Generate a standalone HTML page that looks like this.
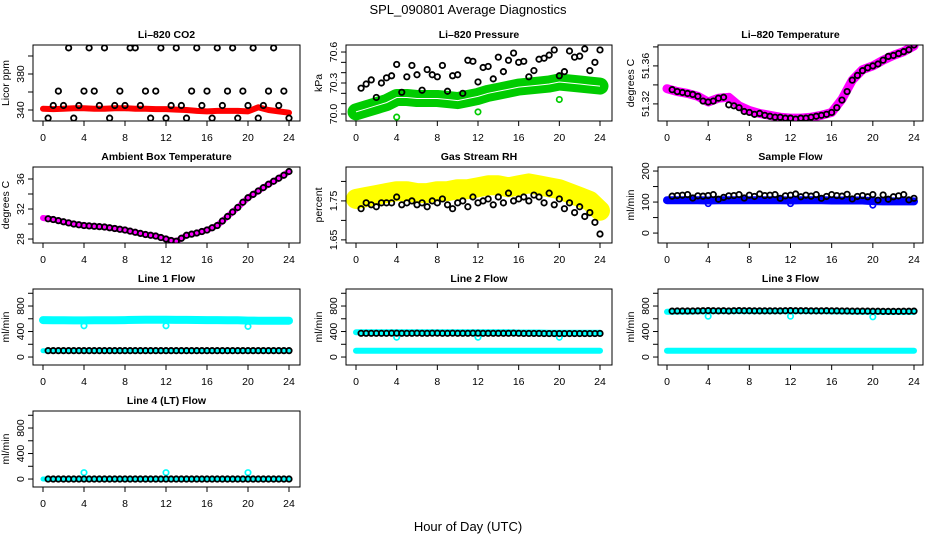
<!DOCTYPE html>
<html><head><meta charset="utf-8"><style>
html,body{margin:0;padding:0;background:#fff;}
svg{display:block;font-family:"Liberation Sans",Arial,sans-serif;}
</style></head><body>
<svg id="chart" width="936" height="540" viewBox="0 0 936 540">
<text x="468" y="14" text-anchor="middle" font-size="13">SPL_090801  Average Diagnostics</text>
<text x="468" y="531" text-anchor="middle" font-size="13">Hour of Day (UTC)</text>
</svg>
<script>
const hours25 = [0,1,2,3,4,5,6,7,8,9,10,11,12,13,14,15,16,17,18,19,20,21,22,23,24];
const hours48 = [0.5,1,1.5,2,2.5,3,3.5,4,4.5,5,5.5,6,6.5,7,7.5,8,8.5,9,9.5,10,10.5,11,11.5,12,12.5,13,13.5,14,14.5,15,15.5,16,16.5,17,17.5,18,18.5,19,19.5,20,20.5,21,21.5,22,22.5,23,23.5,24];
const xTicks = [0,4,8,12,16,20,24];
const outlierHours = [4,12,20];

const co2Band = [341.5,341,341.5,342,342,341.5,341.5,342,342,341.5,341.5,341,341,340.5,340,339,338.5,339,339,339,338.5,343,340,338.5,337];
const co2Points = [331,345,361,345,409,331,345,361,409,361,345,409,331,345,361,345,409,409,345,361,331,361,409,331,345,409,345,331,361,409,345,361,331,409,345,361,409,331,361,345,409,331,345,361,409,345,361,331];
const presBand = [70.02,70.05,70.08,70.11,70.16,70.16,70.15,70.15,70.15,70.14,70.13,70.15,70.17,70.2,70.22,70.24,70.26,70.27,70.28,70.29,70.31,70.3,70.29,70.28,70.27];
const presPoints = [70.25,70.29,70.33,70.16,70.3,70.35,70.37,70.48,70.21,70.36,70.47,70.38,70.23,70.43,70.38,70.36,70.47,70.22,70.37,70.38,70.2,70.52,70.51,70.31,70.45,70.46,70.34,70.55,70.41,70.52,70.59,70.5,70.51,70.36,70.42,70.53,70.54,70.57,70.62,70.37,70.41,70.61,70.55,70.56,70.63,70.42,70.5,70.62];
const presOutliers = [69.97,70.02,70.14];
const tempBand = [51.336,51.333,51.331,51.328,51.322,51.326,51.327,51.318,51.313,51.310,51.308,51.306,51.305,51.305,51.306,51.308,51.311,51.325,51.345,51.356,51.360,51.366,51.371,51.375,51.381];
const tempPoints = [51.335,51.333,51.332,51.331,51.330,51.328,51.323,51.322,51.323,51.326,51.327,51.319,51.318,51.316,51.312,51.311,51.309,51.310,51.308,51.307,51.306,51.306,51.305,51.305,51.304,51.305,51.305,51.306,51.307,51.308,51.309,51.311,51.316,51.324,51.333,51.345,51.350,51.355,51.358,51.360,51.362,51.366,51.370,51.371,51.373,51.375,51.377,51.382];
const ambBand = [30.8,30.6,30.3,30.0,29.8,29.7,29.6,29.4,29.2,28.9,28.6,28.4,28.0,27.7,28.5,28.8,29.2,29.8,31.0,32.2,33.5,34.4,35.3,36.1,37.0];
const ambPoints = [30.7,30.6,30.45,30.3,30.15,30.0,29.9,29.8,29.75,29.7,29.65,29.6,29.5,29.4,29.3,29.2,29.05,28.9,28.75,28.6,28.5,28.4,28.2,28.0,27.8,27.7,28.1,28.5,28.65,28.8,29.0,29.2,29.5,29.8,30.4,31.0,31.6,32.2,32.9,33.5,33.95,34.4,34.85,35.3,35.7,36.1,36.5,37.0];
const rhBand = [1.755,1.76,1.765,1.77,1.775,1.775,1.77,1.77,1.775,1.775,1.78,1.78,1.785,1.79,1.79,1.785,1.79,1.795,1.79,1.785,1.78,1.77,1.76,1.75,1.725];
const rhPoints = [1.73,1.745,1.74,1.735,1.745,1.745,1.745,1.76,1.74,1.745,1.75,1.74,1.745,1.735,1.75,1.745,1.755,1.74,1.73,1.745,1.75,1.735,1.76,1.745,1.75,1.755,1.74,1.76,1.745,1.77,1.75,1.755,1.76,1.75,1.765,1.76,1.745,1.77,1.74,1.755,1.73,1.745,1.72,1.735,1.71,1.72,1.695,1.665];
const sampBand = [106,106,106,106,105,106,106,106,106,106,106,106,105,106,106,106,105,105,105,105,103,102,102,102,102];
const sampPoints = [119,121,122,124,113,120,119,121,124,109,115,120,121,124,113,122,118,126,121,122,124,112,120,122,126,117,122,119,124,112,118,124,121,119,125,110,118,121,117,124,106,123,109,117,120,124,107,112];
const sampOutliers = [95,95,90];
const line1BandHigh = [580,578,576,575,574,576,577,578,580,582,585,586,585,583,582,581,580,580,578,576,572,570,570,570,570];
const line1BandLow = [100,100,100,100,100,100,100,100,100,100,100,100,100,100,100,100,100,100,100,100,100,100,100,100,100];
const line1Points = [100,100,100,100,100,100,100,100,100,100,100,100,100,100,100,100,100,100,100,100,100,100,100,100,100,100,100,100,100,100,100,100,100,100,100,100,100,100,100,100,100,100,100,100,100,100,100,100];
const line1Outliers = [490,490,480];
const line2BandHigh = [390,390,390,390,390,390,390,390,390,390,390,390,390,390,390,390,385,385,385,382,380,380,380,380,380];
const line2BandLow = [100,100,100,100,100,100,100,100,100,100,100,100,100,100,100,100,100,100,100,100,100,100,100,100,100];
const line2Points = [372,372,372,372,372,372,374,374,372,372,372,374,372,372,374,374,372,372,374,372,372,372,374,374,372,372,372,372,372,372,374,372,370,370,370,370,368,368,368,368,368,368,368,368,368,368,368,370];
const line2Outliers = [310,310,310];
const line3BandHigh = [710,712,712,715,718,720,720,720,720,720,720,720,720,720,720,720,715,715,712,710,710,708,708,708,708];
const line3BandLow = [100,100,100,100,100,100,100,100,100,100,100,100,100,100,100,100,100,100,100,100,100,100,100,100,100];
const line3Points = [720,722,722,722,722,724,726,728,726,724,726,722,726,728,726,726,724,724,724,724,724,724,726,728,726,726,726,724,724,724,726,724,724,722,722,720,720,720,720,718,718,716,716,716,716,718,718,720];
const line3Outliers = [640,640,630];
const line4Band = [0,0,0,0,0,0,0,0,0,0,0,0,0,0,0,0,0,0,0,0,0,0,0,0,0];
const line4Points = [0,0,0,0,0,0,0,0,0,0,0,0,0,0,0,0,0,0,0,0,0,0,0,0,0,0,0,0,0,0,0,0,0,0,0,0,0,0,0,0,0,0,0,0,0,0,0,0];
const line4Outliers = [100,100,100];

const NS = 'http://www.w3.org/2000/svg';
const svg = document.getElementById('chart');
const cols = [{l:33,r:300,x0:43,x24:289},{l:346,r:612,x0:356,x24:600},{l:658,r:923,x0:667,x24:914}];
const rowTops = [45,167,289,411];
const H = 76;

function mk(tag, attrs, parent){
  const e = document.createElementNS(NS, tag);
  for (const k in attrs) e.setAttribute(k, attrs[k]);
  (parent||svg).appendChild(e);
  return e;
}

function panel(o){
  const c = cols[o.col], top = rowTops[o.row], bot = top + H;
  const g = mk('g', {});
  
  
  const xs = h => c.x0 + (c.x24 - c.x0) * h / 24;
  const ys = v => bot - (v - o.yMin) / (o.yMax - o.yMin) * H;
  const t = mk('text', {x:(c.l+c.r)/2, y:top-7, 'text-anchor':'middle', 'font-size':10.5, 'font-weight':'bold'}, g);
  t.textContent = o.title;
  
  
  const cid = 'clip-' + o.name;
  const cp = mk('clipPath', {id:cid}, g);
  mk('rect', {x:c.l, y:top, width:c.r-c.l, height:H}, cp);
  const pg = mk('g', {'clip-path':'url(#'+cid+')'}, g);
  
  
  (o.bands||[]).forEach((b, bi) => {
    const pts = hours25.map((h,i)=> xs(h).toFixed(1)+','+ys(b.vals[i]).toFixed(1)).join(' ');
    const pl = mk('polyline', {points:pts, fill:'none', stroke:b.color, 'stroke-width':b.w, 'stroke-linejoin':'round', 'stroke-linecap':'round'}, pg);
    
    
    if (b.center) {
      const cl = mk('polyline', {points:pts, fill:'none', stroke:'#fff', 'stroke-width':1}, pg);
      
      
    }
  });
  if (o.outliers) {
    outlierHours.forEach((h,i) => {
      const ci = mk('circle', {cx:xs(h), cy:ys(o.outliers[i]), r:2.7, fill:'none', stroke:o.outColor, 'stroke-width':1.7}, pg);
      
      
    });
  }
  if (o.points) {
    hours48.forEach((h,i) => {
      const ci = mk('circle', {cx:xs(h), cy:ys(o.points[i]), r:2.7, fill:'none', stroke:'#000', 'stroke-width':1.8}, pg);
      
      
    });
  }
  const box = mk('rect', {x:c.l, y:top, width:c.r-c.l, height:H, fill:'none', stroke:'#000', 'stroke-width':1}, g);
  
  
  mk('line', {x1:xs(0), x2:xs(24), y1:bot, y2:bot, stroke:'#000'}, g);
  xTicks.forEach(h => {
    mk('line', {x1:xs(h), x2:xs(h), y1:bot, y2:bot+5, stroke:'#000'}, g);
    const tl = mk('text', {x:xs(h), y:bot+20, 'text-anchor':'middle', 'font-size':10.5}, g);
    tl.textContent = h;
    
    
  });
  const yt = o.yTicks;
  mk('line', {x1:c.l, x2:c.l, y1:ys(yt[0]), y2:ys(yt[yt.length-1]), stroke:'#000'}, g);
  yt.forEach(v => {
    mk('line', {x1:c.l-5, x2:c.l, y1:ys(v), y2:ys(v), stroke:'#000'}, g);
  });
  o.yLabels.forEach((lab, i) => {
    const y = ys(o.yLabelVals[i]);
    const tl = mk('text', {x:0, y:0, 'text-anchor':'middle', 'font-size':10.5, transform:'translate('+(c.l-9)+','+y+') rotate(-90)'}, g);
    tl.textContent = lab;
    
    
  });
  const yl = mk('text', {x:0, y:0, 'text-anchor':'middle', 'font-size':10.5, transform:'translate('+(c.l-24)+','+(top+H/2)+') rotate(-90)'}, g);
  yl.textContent = o.yTitle;
  
  
}

const flowTicks = [0,200,400,600,800,1000];
panel({name:'co2', title:'Li\u2013820 CO2', col:0, row:0, yMin:327.8, yMax:412.2, yTicks:[340,360,380,400], yLabels:['340','380'], yLabelVals:[340,380], yTitle:'Licor ppm',
  bands:[{vals:co2Band, color:'#ff0000', w:6}], points:co2Points});
panel({name:'pressure', title:'Li\u2013820 Pressure', col:1, row:0, yMin:69.932, yMax:70.668, yTicks:[70.0,70.1,70.2,70.3,70.4,70.5,70.6], yLabels:['70.0','70.3','70.6'], yLabelVals:[70.0,70.3,70.6], yTitle:'kPa',
  bands:[{vals:presBand, color:'#00cc00', w:17, center:true}], points:presPoints, outliers:presOutliers, outColor:'#00cc00'});
panel({name:'temperature', title:'Li\u2013820 Temperature', col:2, row:0, yMin:51.302, yMax:51.382, yTicks:[51.32,51.34,51.36,51.38], yLabels:['51.32','51.36'], yLabelVals:[51.32,51.36], yTitle:'degrees C',
  bands:[{vals:tempBand, color:'#ff00ff', w:9}], points:tempPoints});
panel({name:'ambient-temp', title:'Ambient Box Temperature', col:0, row:1, yMin:27.47, yMax:37.6, yTicks:[28,30,32,34,36], yLabels:['28','32','36'], yLabelVals:[28,32,36], yTitle:'degrees C',
  bands:[{vals:ambBand, color:'#ff00ff', w:6}], points:ambPoints});
panel({name:'gas-rh', title:'Gas Stream RH', col:1, row:1, yMin:1.642, yMax:1.837, yTicks:[1.65,1.70,1.75,1.80], yLabels:['1.65','1.75'], yLabelVals:[1.65,1.75], yTitle:'percent',
  bands:[{vals:rhBand, color:'#ffff00', w:20}], points:rhPoints});
panel({name:'sample-flow', title:'Sample Flow', col:2, row:1, yMin:-32, yMax:213, yTicks:[0,50,100,150,200], yLabels:['0','100','200'], yLabelVals:[0,100,200], yTitle:'ml/min',
  bands:[{vals:sampBand, color:'#0000ff', w:8}], points:sampPoints, outliers:sampOutliers, outColor:'#0000ff'});
panel({name:'line1-flow', title:'Line 1 Flow', col:0, row:2, yMin:-125, yMax:1067, yTicks:flowTicks, yLabels:['0','400','800'], yLabelVals:[0,400,800], yTitle:'ml/min',
  bands:[{vals:line1BandHigh, color:'#00ffff', w:8},{vals:line1BandLow, color:'#00ffff', w:5}], points:line1Points, outliers:line1Outliers, outColor:'#00ffff'});
panel({name:'line2-flow', title:'Line 2 Flow', col:1, row:2, yMin:-125, yMax:1067, yTicks:flowTicks, yLabels:['0','400','800'], yLabelVals:[0,400,800], yTitle:'ml/min',
  bands:[{vals:line2BandHigh, color:'#00ffff', w:6},{vals:line2BandLow, color:'#00ffff', w:6}], points:line2Points, outliers:line2Outliers, outColor:'#00ffff'});
panel({name:'line3-flow', title:'Line 3 Flow', col:2, row:2, yMin:-125, yMax:1067, yTicks:flowTicks, yLabels:['0','400','800'], yLabelVals:[0,400,800], yTitle:'ml/min',
  bands:[{vals:line3BandHigh, color:'#00ffff', w:6},{vals:line3BandLow, color:'#00ffff', w:6}], points:line3Points, outliers:line3Outliers, outColor:'#00ffff'});
panel({name:'line4-flow', title:'Line 4 (LT) Flow', col:0, row:3, yMin:-125, yMax:1067, yTicks:flowTicks, yLabels:['0','400','800'], yLabelVals:[0,400,800], yTitle:'ml/min',
  bands:[{vals:line4Band, color:'#00ffff', w:5}], points:line4Points, outliers:line4Outliers, outColor:'#00ffff'});
</script>
</body></html>
